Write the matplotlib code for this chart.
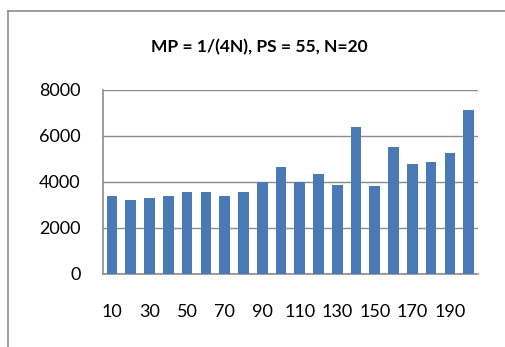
import numpy as np
import matplotlib.pyplot as plt
from matplotlib.lines import Line2D

plt.rcParams['font.family'] = ['Lato', 'DejaVu Sans']

categories = list(range(10, 201, 10))
values = [3370, 3210, 3300, 3385, 3545, 3560, 3355, 3560, 3990, 4645,
          4000, 4325, 3835, 6385, 3805, 5485, 4760, 4850, 5225, 7095]
tick_labels = [str(c) if i % 2 == 0 else '' for i, c in enumerate(categories)]
title = 'MP = 1/(4N), PS = 55, N=20'

W, H = 505, 347
fig = plt.figure(figsize=(W / 100, H / 100), dpi=100)

# outer chart frame (only left and top edges fall inside the picture)
frame_x, frame_y = 7.5 / W, 1 - 10.5 / H
fig.add_artist(Line2D([frame_x, frame_x], [frame_y, -0.1], transform=fig.transFigure,
                      color='#8c8c8c', linewidth=1.2))
fig.add_artist(Line2D([frame_x, 1.1], [frame_y, frame_y], transform=fig.transFigure,
                      color='#8c8c8c', linewidth=1.2))

ax = fig.add_axes([102.7 / W, 73.5 / H, (478 - 102.7) / W, 184 / H])

x = np.arange(len(categories))
ax.bar(x, values, width=0.57, color='#4a7ab5', zorder=3)
ax.set_xlim(-0.5, len(categories) - 0.5)
ax.set_ylim(0, 8000)
ax.set_yticks([0, 2000, 4000, 6000, 8000])
ax.set_xticks(x)
ax.set_xticklabels(tick_labels)
ax.yaxis.grid(True, color='#8c8c8c', linewidth=1.0, zorder=0)
for side in ['top', 'right']:
    ax.spines[side].set_visible(False)
for side in ['left', 'bottom']:
    ax.spines[side].set_color('#8c8c8c')
    ax.spines[side].set_linewidth(1.2)
ax.tick_params(length=0, labelsize=13)
ax.tick_params(axis='x', pad=22)
ax.tick_params(axis='y', pad=16)

fig.text(259.5 / W, 1 - 47 / H, title, ha='center', va='center',
         fontsize=12.5, fontweight='bold')

fig.savefig('out.png', dpi=100)
